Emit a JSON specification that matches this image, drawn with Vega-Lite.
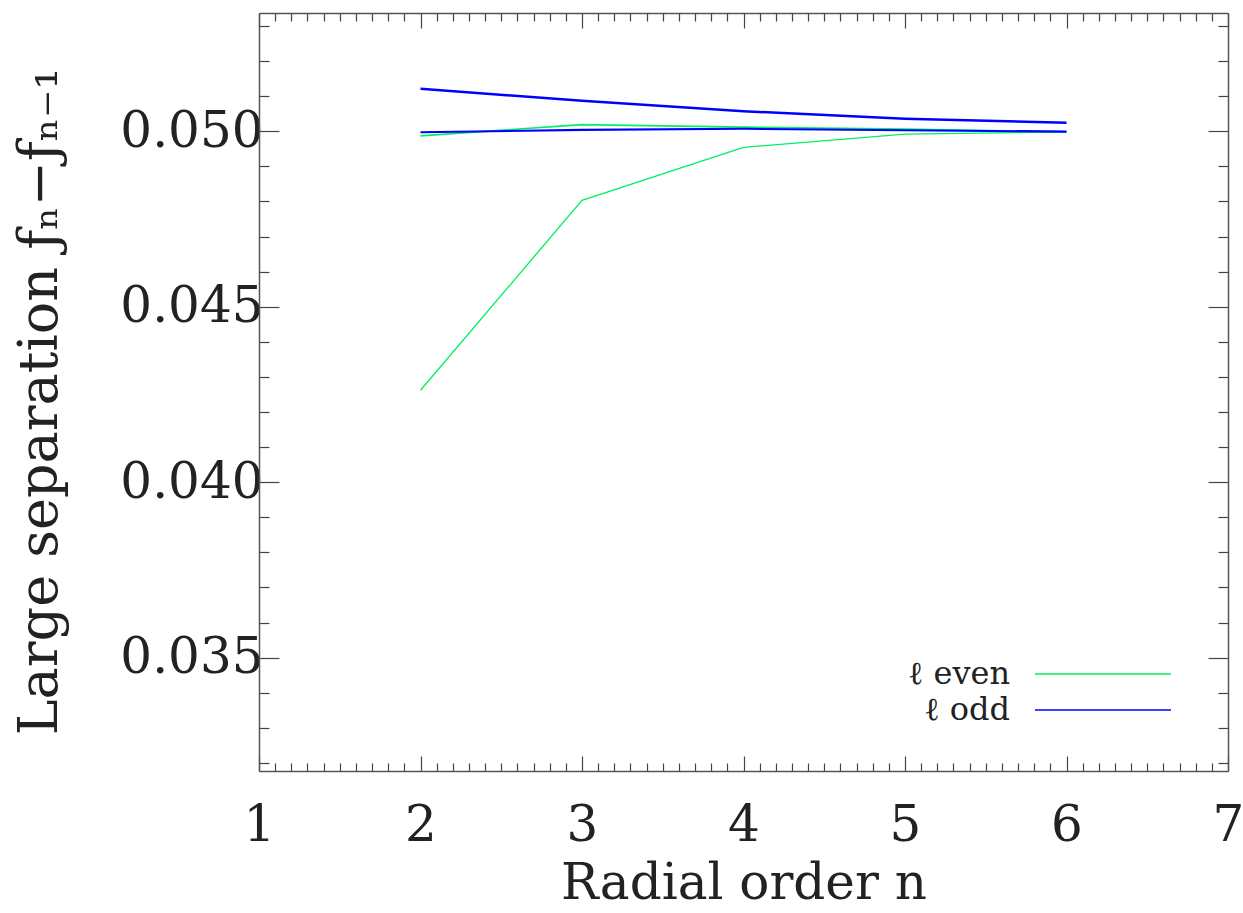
{
  "$schema": "https://vega.github.io/schema/vega-lite/v6.json",
  "width": 969,
  "height": 758,
  "autosize": {"type": "none"},
  "padding": {"left": 259, "top": 13, "right": 15, "bottom": 142},
  "background": "white",
  "config": {
    "view": {"stroke": null},
    "font": "DejaVu Serif",
    "axis": {"grid": false, "domainColor": "#555", "domainWidth": 1.5, "tickColor": "#444", "tickWidth": 1.2, "labelColor": "#222", "titleColor": "#222", "labelFont": "DejaVu Serif", "titleFont": "DejaVu Serif", "titleFontWeight": "normal"}
  },
  "data": {
    "values": [
      {"n": 2, "sep": 0.04262, "parity": "ℓ even", "series": "even 1"},
      {"n": 3, "sep": 0.04803, "parity": "ℓ even", "series": "even 1"},
      {"n": 4, "sep": 0.04954, "parity": "ℓ even", "series": "even 1"},
      {"n": 5, "sep": 0.04992, "parity": "ℓ even", "series": "even 1"},
      {"n": 6, "sep": 0.04998, "parity": "ℓ even", "series": "even 1"},
      {"n": 2, "sep": 0.04987, "parity": "ℓ even", "series": "even 2"},
      {"n": 3, "sep": 0.05019, "parity": "ℓ even", "series": "even 2"},
      {"n": 4, "sep": 0.05012, "parity": "ℓ even", "series": "even 2"},
      {"n": 5, "sep": 0.05006, "parity": "ℓ even", "series": "even 2"},
      {"n": 6, "sep": 0.04998, "parity": "ℓ even", "series": "even 2"},
      {"n": 2, "sep": 0.04997, "parity": "ℓ odd", "series": "odd 1"},
      {"n": 3, "sep": 0.05004, "parity": "ℓ odd", "series": "odd 1"},
      {"n": 4, "sep": 0.05007, "parity": "ℓ odd", "series": "odd 1"},
      {"n": 5, "sep": 0.05003, "parity": "ℓ odd", "series": "odd 1"},
      {"n": 6, "sep": 0.04999, "parity": "ℓ odd", "series": "odd 1"},
      {"n": 2, "sep": 0.05121, "parity": "ℓ odd", "series": "odd 2"},
      {"n": 3, "sep": 0.05087, "parity": "ℓ odd", "series": "odd 2"},
      {"n": 4, "sep": 0.05057, "parity": "ℓ odd", "series": "odd 2"},
      {"n": 5, "sep": 0.05036, "parity": "ℓ odd", "series": "odd 2"},
      {"n": 6, "sep": 0.05024, "parity": "ℓ odd", "series": "odd 2"}
    ]
  },
  "layer": [
    {
      "transform": [{"filter": "datum.parity === 'ℓ even'"}],
      "mark": {"type": "line", "clip": true},
      "encoding": {
        "x": {"field": "n", "type": "quantitative",
          "scale": {"domain": [1, 7], "nice": false, "zero": false},
          "axis": {"orient": "bottom", "title": "Radial order n", "titleFontSize": 50, "titleX": 484.5, "titleY": 127, "titleBaseline": "alphabetic", "titleAnchor": null,
            "values": [1,1.1,1.2,1.3,1.4,1.5,1.6,1.7,1.8,1.9,2,2.1,2.2,2.3,2.4,2.5,2.6,2.7,2.8,2.9,3,3.1,3.2,3.3,3.4,3.5,3.6,3.7,3.8,3.9,4,4.1,4.2,4.3,4.4,4.5,4.6,4.7,4.8,4.9,5,5.1,5.2,5.3,5.4,5.5,5.6,5.7,5.8,5.9,6,6.1,6.2,6.3,6.4,6.5,6.6,6.7,6.8,6.9,7],
            "labelExpr": "abs(datum.value - round(datum.value)) < 1e-6 ? '' + round(datum.value) : ''",
            "labelFontSize": 50, "labelFlush": false, "labelOverlap": false, "labelPadding": 44,
            "tickSize": {"condition": {"test": "abs(datum.value - round(datum.value)) < 1e-6", "value": -15}, "value": -8}}},
        "y": {"field": "sep", "type": "quantitative",
          "scale": {"domain": [0.03177, 0.05337], "nice": false, "zero": false},
          "axis": {"orient": "left", "title": "Large separation ƒₙ−ƒₙ₋₁", "titleFontSize": 54, "titleX": -219, "titleY": 388, "titleAngle": -90, "titleBaseline": "middle", "titleAnchor": null,
            "values": [0.032,0.033,0.034,0.035,0.036,0.037,0.038,0.039,0.04,0.041,0.042,0.043,0.044,0.045,0.046,0.047,0.048,0.049,0.05,0.051,0.052,0.053],
            "format": ".3f",
            "labelExpr": "abs(datum.value*200 - round(datum.value*200)) < 1e-6 ? datum.label : ''",
            "labelFontSize": 50, "labelOverlap": false, "labelPadding": 16,
            "tickSize": {"condition": {"test": "abs(datum.value*200 - round(datum.value*200)) < 1e-6", "value": -20}, "value": -10}}},
        "color": {"field": "parity", "type": "nominal",
          "scale": {"domain": ["ℓ even", "ℓ odd"], "range": ["#00f060", "#0000ff"]},
          "legend": {"orient": "none", "legendX": 828, "legendY": 645, "title": null, "symbolType": "M-5,0L5,0", "symbolSize": 740, "symbolStrokeWidth": 1.5, "labelAlign": "right", "labelOffset": -109, "labelFontSize": 32, "labelColor": "#222", "labelLimit": 0, "rowPadding": 4}},
        "strokeWidth": {"field": "series", "type": "nominal",
          "scale": {"domain": ["even 1", "even 2", "odd 1", "odd 2"], "range": [1.3, 2.5, 2, 3]}, "legend": null}
      }
    },
    {
      "transform": [{"filter": "datum.parity === 'ℓ odd'"}],
      "mark": {"type": "line", "clip": true},
      "encoding": {
        "x": {"field": "n", "type": "quantitative",
          "axis": {"orient": "top", "title": null, "labels": false,
            "values": [1,1.1,1.2,1.3,1.4,1.5,1.6,1.7,1.8,1.9,2,2.1,2.2,2.3,2.4,2.5,2.6,2.7,2.8,2.9,3,3.1,3.2,3.3,3.4,3.5,3.6,3.7,3.8,3.9,4,4.1,4.2,4.3,4.4,4.5,4.6,4.7,4.8,4.9,5,5.1,5.2,5.3,5.4,5.5,5.6,5.7,5.8,5.9,6,6.1,6.2,6.3,6.4,6.5,6.6,6.7,6.8,6.9,7],
            "tickSize": {"condition": {"test": "abs(datum.value - round(datum.value)) < 1e-6", "value": -15}, "value": -8}}},
        "y": {"field": "sep", "type": "quantitative",
          "axis": {"orient": "right", "title": null, "labels": false,
            "values": [0.032,0.033,0.034,0.035,0.036,0.037,0.038,0.039,0.04,0.041,0.042,0.043,0.044,0.045,0.046,0.047,0.048,0.049,0.05,0.051,0.052,0.053],
            "tickSize": {"condition": {"test": "abs(datum.value*200 - round(datum.value*200)) < 1e-6", "value": -20}, "value": -10}}},
        "color": {"field": "parity", "type": "nominal",
          "scale": {"domain": ["ℓ even", "ℓ odd"], "range": ["#00f060", "#0000ff"]},
          "legend": {"orient": "none", "legendX": 828, "legendY": 645, "title": null, "symbolType": "M-5,0L5,0", "symbolSize": 740, "symbolStrokeWidth": 1.5, "labelAlign": "right", "labelOffset": -109, "labelFontSize": 32, "labelColor": "#222", "labelLimit": 0, "rowPadding": 4}},
        "strokeWidth": {"field": "series", "type": "nominal",
          "scale": {"domain": ["even 1", "even 2", "odd 1", "odd 2"], "range": [1.3, 2.5, 2, 3]}, "legend": null}
      }
    }
  ],
  "resolve": {"axis": {"x": "independent", "y": "independent"}}
}
